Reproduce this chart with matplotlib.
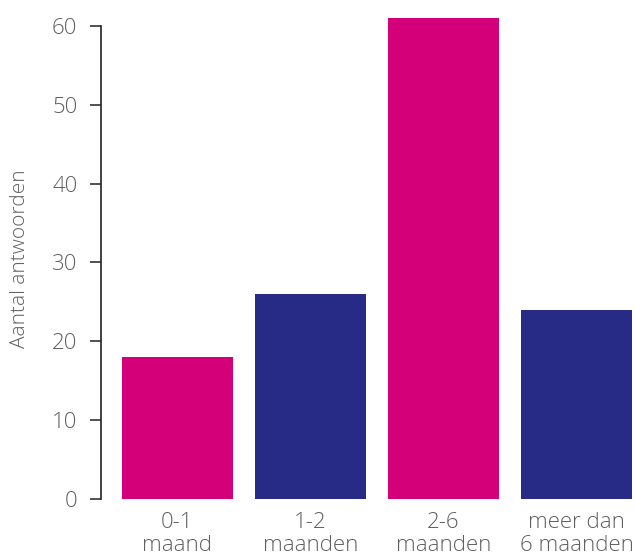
import matplotlib.pyplot as plt

categories = ['0-1\nmaand', '1-2\nmaanden', '2-6\nmaanden', 'meer dan\n6 maanden']
values = [18, 26, 61, 24]
colors = ['#d4007a', '#272b85', '#d4007a', '#272b85']
y_ticks = [0, 10, 20, 30, 40, 50, 60]

plt.rcParams['font.family'] = ['Open Sans', 'DejaVu Sans']
grey = '#606060'

fig = plt.figure(figsize=(6.35, 5.55), dpi=100)
ax = fig.add_axes([101 / 635, 56 / 555, 534 / 635, 481 / 555])

ax.bar(range(len(values)), values, width=0.835, color=colors)

ax.set_xlim(-0.575, 3.44)
ax.set_ylim(0, 61)
ax.set_yticks(y_ticks)
ax.set_xticks(range(len(categories)))
ax.set_xticklabels(categories, linespacing=1.15)

for side in ['top', 'right', 'bottom']:
    ax.spines[side].set_visible(False)
ax.spines['left'].set_bounds(0, 60)
ax.spines['left'].set_color('#222222')
ax.spines['left'].set_linewidth(1.2)

ax.tick_params(axis='y', length=8, width=1.2, color='#333333', labelsize=16,
               labelcolor=grey, pad=9)
ax.tick_params(axis='x', length=0, labelsize=16, labelcolor=grey, pad=9)
for lbl in ax.get_xticklabels() + ax.get_yticklabels():
    lbl.set_fontweight('light')

ax.set_ylabel('Aantal antwoorden', fontsize=15, color=grey, fontweight='light',
              labelpad=16)

fig.savefig('out.png', dpi=100)
